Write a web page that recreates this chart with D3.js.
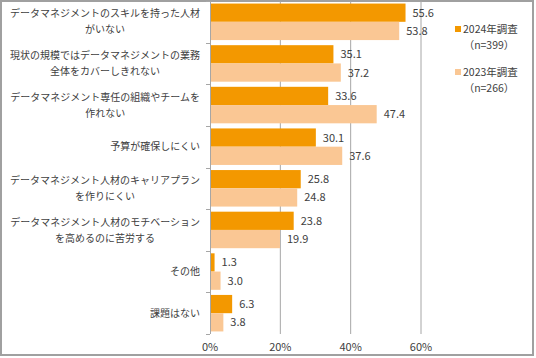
<!DOCTYPE html>
<html>
<head>
<meta charset="utf-8">
<script src="https://cdn.jsdelivr.net/npm/d3@7"></script>
<style>
  html, body { margin: 0; padding: 0; background: #fff; }
  svg { display: block; font-family: "Noto Sans CJK JP", "Noto Sans", sans-serif; }
</style>
</head>
<body>
<div id="chart-container"></div>
<script>
// Categories (each entry = lines of the wrapped label)
const categories = [
    ["データマネジメントのスキルを持った人材", "がいない"],
    ["現状の規模ではデータマネジメントの業務", "全体をカバーしきれない"],
    ["データマネジメント専任の組織やチームを", "作れない"],
    ["予算が確保しにくい"],
    ["データマネジメント人材のキャリアプラン", "を作りにくい"],
    ["データマネジメント人材のモチベーション", "を高めるのに苦労する"],
    ["その他"],
    ["課題はない"]
];
const values2024 = [55.6, 35.1, 33.6, 30.1, 25.8, 23.8, 1.3, 6.3];
const values2023 = [53.8, 37.2, 47.4, 37.6, 24.8, 19.9, 3.0, 3.8];
const seriesNames = ["2024年調査", "2023年調査"];
const seriesNotes = ["（n=399）", "（n=266）"];
const xTicks = [0, 20, 40, 60];

const width = 536, height = 358;
const colors = ["#F39800", "#FAC794"];
const textColor = "#404040";
const gridColor = "#a6a6a6";

const svg = d3.select("#chart-container")
    .append("svg")
    .attr("width", width)
    .attr("height", height);

// outer frame
svg.append("rect")
    .attr("x", 1).attr("y", 1)
    .attr("width", width - 4).attr("height", height - 4)
    .attr("fill", "#fff")
    .attr("stroke", "#a0a0a0")
    .attr("stroke-width", 2);

const plot = { left: 210, right: 421, top: 1, bottom: 334 };

const x = d3.scaleLinear().domain([0, 60]).range([plot.left, plot.right]);
const y = d3.scaleBand()
    .domain(d3.range(categories.length))
    .range([plot.top, plot.bottom]);
const inner = d3.scaleBand()
    .domain([0, 1])
    .range([0, y.bandwidth()])
    .paddingOuter(0.14)
    .paddingInner(0);

// gridlines
svg.append("g")
    .selectAll("line")
    .data(xTicks.slice(1))
    .join("line")
    .attr("x1", d => x(d)).attr("x2", d => x(d))
    .attr("y1", plot.top).attr("y2", plot.bottom)
    .attr("stroke", gridColor)
    .attr("stroke-width", 1);

// bars
const series = [values2024, values2023];
const groups = svg.append("g")
    .selectAll("g")
    .data(categories.map((c, i) => i))
    .join("g")
    .attr("transform", i => `translate(0,${y(i)})`);

groups.selectAll("rect")
    .data(i => series.map((s, k) => ({ k, v: s[i] })))
    .join("rect")
    .attr("x", x(0))
    .attr("y", d => inner(d.k))
    .attr("width", d => x(d.v) - x(0))
    .attr("height", inner.bandwidth())
    .attr("fill", d => colors[d.k]);

groups.selectAll("text")
    .data(i => series.map((s, k) => ({ k, v: s[i] })))
    .join("text")
    .attr("x", d => x(d.v) + 7)
    .attr("y", d => inner(d.k) + inner.bandwidth() / 2)
    .attr("dy", "0.36em")
    .attr("font-size", 11)
    .attr("fill", textColor)
    .text(d => d.v.toFixed(1));

// y axis line + ticks
const yAxis = svg.append("g");
yAxis.append("line")
    .attr("x1", plot.left + 0.5).attr("x2", plot.left + 0.5)
    .attr("y1", plot.top).attr("y2", plot.bottom)
    .attr("stroke", gridColor);
yAxis.selectAll("line.tick")
    .data(d3.range(categories.length + 1))
    .join("line")
    .attr("class", "tick")
    .attr("x1", plot.left - 4).attr("x2", plot.left)
    .attr("y1", i => Math.round(plot.top + i * y.step()) + 0.5)
    .attr("y2", i => Math.round(plot.top + i * y.step()) + 0.5)
    .attr("stroke", gridColor);

// category labels (wrapped, lines centred within a right-aligned block)
const labelRight = 200;
const lineH = 16;
categories.forEach((lines, i) => {
    const g = svg.append("g");
    const cy = y(i) + y.bandwidth() / 2;
    const texts = lines.map((t, j) => g.append("text")
        .attr("y", cy + (j - (lines.length - 1) / 2) * lineH)
        .attr("dy", "0.36em")
        .attr("font-size", 10)
        .attr("fill", textColor)
        .attr("text-anchor", "middle")
        .text(t));
    const w = d3.max(texts, t => t.node().getComputedTextLength());
    texts.forEach(t => t.attr("x", labelRight - w / 2));
});

// x axis tick labels
svg.append("g")
    .selectAll("text")
    .data(xTicks)
    .join("text")
    .attr("x", d => x(d))
    .attr("y", 347)
    .attr("dy", "0.36em")
    .attr("text-anchor", "middle")
    .attr("font-size", 11)
    .attr("fill", textColor)
    .text(d => d + "%");

// legend
const legend = svg.append("g");
seriesNames.forEach((name, k) => {
    const ly = 29 + k * 43;
    legend.append("rect")
        .attr("x", 455).attr("y", ly - 3)
        .attr("width", 6).attr("height", 6)
        .attr("fill", colors[k]);
    legend.append("text")
        .attr("x", 463).attr("y", ly)
        .attr("dy", "0.36em")
        .attr("font-size", 10.5)
        .attr("fill", textColor)
        .text(name);
    legend.append("text")
        .attr("x", 489).attr("y", ly + 16)
        .attr("dy", "0.36em")
        .attr("text-anchor", "middle")
        .attr("font-size", 10.5)
        .attr("fill", textColor)
        .text(seriesNotes[k]);
});
</script>
</body>
</html>
